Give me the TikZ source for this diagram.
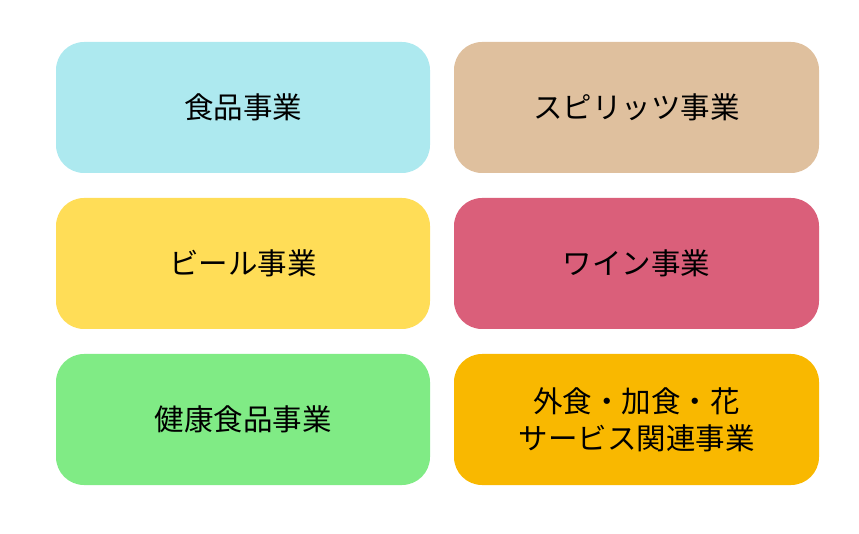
\documentclass[tikz,border=0pt]{standalone}
\usepackage{fontspec}
\setmainfont{Noto Sans CJK JP}
\begin{document}
\begin{tikzpicture}[x=1pt,y=-1pt,
  biz/.style={rounded corners=28pt, minimum width=#1, minimum height=131pt, inner sep=0pt, align=center, font=\fontsize{29.5}{37}\selectfont, text=black},
  biz/.default=374pt]
\definecolor{cA}{HTML}{ADE9EF}
\definecolor{cB}{HTML}{DFC09E}
\definecolor{cC}{HTML}{FFDD57}
\definecolor{cD}{HTML}{DA5F7A}
\definecolor{cE}{HTML}{80EB85}
\definecolor{cF}{HTML}{F9B800}
\useasboundingbox (0,0) rectangle (859,534);
\node[biz, fill=cA] (food) at (243,107.5) {食品事業};
\node[biz=365pt, fill=cB] (spirits) at (636.5,107.5) {スピリッツ事業};
\node[biz, fill=cC] (beer) at (243,263.5) {ビール事業};
\node[biz=365pt, fill=cD] (wine) at (636.5,263.5) {ワイン事業};
\node[biz, fill=cE] (health) at (243,419.5) {健康食品事業};
\node[biz=365pt, fill=cF] (service) at (636.5,419.5) {外食・加食・花\\サービス関連事業};
\end{tikzpicture}
\end{document}
